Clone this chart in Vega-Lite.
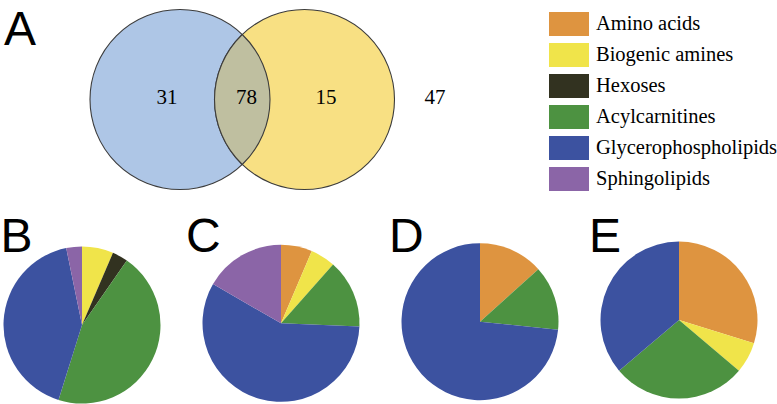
{
  "$schema": "https://vega.github.io/schema/vega-lite/v6.json",
  "width": 777,
  "height": 404,
  "autosize": {"type": "none"},
  "padding": 0,
  "background": "white",
  "config": {"view": {"stroke": null}},
  "datasets": {
    "sets": [{"set": "Set 1"}, {"set": "Set 2"}],
    "regions": [
      {"region": "Set 1 only", "count": 31},
      {"region": "Both", "count": 78},
      {"region": "Set 2 only", "count": 15},
      {"region": "Neither", "count": 47}
    ],
    "panels": [{"panel": "A"}, {"panel": "B"}, {"panel": "C"}, {"panel": "D"}, {"panel": "E"}],
    "pies": [
      {"panel": "B", "category": "Biogenic amines", "count": 2},
      {"panel": "B", "category": "Hexoses", "count": 1},
      {"panel": "B", "category": "Acylcarnitines", "count": 14},
      {"panel": "B", "category": "Glycerophospholipids", "count": 13},
      {"panel": "B", "category": "Sphingolipids", "count": 1},
      {"panel": "C", "category": "Amino acids", "count": 5},
      {"panel": "C", "category": "Biogenic amines", "count": 4},
      {"panel": "C", "category": "Acylcarnitines", "count": 11},
      {"panel": "C", "category": "Glycerophospholipids", "count": 45},
      {"panel": "C", "category": "Sphingolipids", "count": 13},
      {"panel": "D", "category": "Amino acids", "count": 2},
      {"panel": "D", "category": "Acylcarnitines", "count": 2},
      {"panel": "D", "category": "Glycerophospholipids", "count": 11},
      {"panel": "E", "category": "Amino acids", "count": 14},
      {"panel": "E", "category": "Biogenic amines", "count": 3},
      {"panel": "E", "category": "Acylcarnitines", "count": 13},
      {"panel": "E", "category": "Glycerophospholipids", "count": 17}
    ]
  },
  "resolve": {"scale": {"x": "independent", "y": "independent", "color": "independent", "fill": "independent"}},
  "layer": [
    {
      "data": {"name": "sets"},
      "mark": {"type": "point", "shape": "circle", "filled": true, "size": 32400, "opacity": 1, "stroke": "#3c3c3c", "strokeWidth": 1.1, "strokeOpacity": 1},
      "encoding": {
        "x": {"field": "set", "type": "nominal", "axis": null, "scale": {"type": "point", "domain": ["Set 1", "Set 2"], "range": [180, 304.5], "padding": 0}},
        "y": {"datum": "Venn", "type": "nominal", "axis": null, "scale": {"type": "point", "range": [99.5, 99.5], "padding": 0}},
        "fill": {"field": "set", "type": "nominal", "legend": null, "scale": {"domain": ["Set 1", "Set 2"], "range": ["#AEC6E6", "#F8E083"]}}
      }
    },
    {
      "data": {"name": "regions"},
      "transform": [{"filter": "datum.region == 'Both'"}],
      "mark": {"type": "point", "shape": "M0,-0.7222A1,1 0 0,1 0,0.7222A1,1 0 0,1 0,-0.7222Z", "filled": true, "size": 32400, "opacity": 1, "fill": "#BFBFA0", "stroke": "#3c3c3c", "strokeWidth": 1.1, "strokeOpacity": 1},
      "encoding": {
        "x": {"field": "region", "type": "nominal", "axis": null, "scale": {"type": "point", "range": [242.25, 242.25], "padding": 0}},
        "y": {"datum": "Venn", "type": "nominal", "axis": null, "scale": {"type": "point", "range": [99.5, 99.5], "padding": 0}}
      }
    },
    {
      "data": {"name": "regions"},
      "transform": [{"filter": "datum.region != 'Neither'"}],
      "mark": {"type": "text", "font": "Liberation Serif", "fontSize": 21, "color": "black", "align": "center", "baseline": "alphabetic"},
      "encoding": {
        "x": {"field": "region", "type": "nominal", "axis": null, "scale": {"type": "point", "domain": ["Set 1 only", "Both", "Set 2 only"], "range": [167, 326], "padding": 0}},
        "y": {"datum": "Venn", "type": "nominal", "axis": null, "scale": {"type": "point", "range": [104, 104], "padding": 0}},
        "text": {"field": "count", "type": "quantitative"}
      }
    },
    {
      "data": {"name": "regions"},
      "transform": [{"filter": "datum.region == 'Neither'"}],
      "mark": {"type": "text", "font": "Liberation Serif", "fontSize": 21, "color": "black", "align": "center", "baseline": "alphabetic"},
      "encoding": {
        "x": {"field": "region", "type": "nominal", "axis": null, "scale": {"type": "point", "range": [435, 435], "padding": 0}},
        "y": {"datum": "Venn", "type": "nominal", "axis": null, "scale": {"type": "point", "range": [104, 104], "padding": 0}},
        "text": {"field": "count", "type": "quantitative"}
      }
    },
    {
      "data": {"name": "pies"},
      "transform": [{"stack": "count", "groupby": ["panel"], "as": ["t0", "t1"], "offset": "normalize"}],
      "mark": {"type": "arc", "outerRadius": 78.5},
      "encoding": {
        "x": {"field": "panel", "type": "nominal", "axis": null, "scale": {"type": "point", "domain": ["B", "C", "D", "E"], "range": [82, 679], "padding": 0}},
        "y": {"field": "panel", "type": "nominal", "axis": null, "scale": {"type": "point", "domain": ["B", "C", "D", "E"], "range": [325, 320], "padding": 0}},
        "theta": {"field": "t0", "type": "quantitative", "scale": {"domain": [0, 1]}},
        "theta2": {"field": "t1"},
        "color": {
          "field": "category", "type": "nominal",
          "scale": {
            "domain": ["Amino acids", "Biogenic amines", "Hexoses", "Acylcarnitines", "Glycerophospholipids", "Sphingolipids"],
            "range": ["#DE9440", "#F0E44A", "#323220", "#4D9241", "#3C52A0", "#8B65A7"]
          },
          "legend": {
            "title": null,
            "orient": "none",
            "legendX": 549,
            "legendY": 8.6,
            "padding": 0,
            "symbolType": "M-1,-0.6H1V0.6H-1Z",
            "symbolSize": 1600,
            "symbolStrokeWidth": 0,
            "symbolOpacity": 1,
            "labelFont": "Liberation Serif",
            "labelFontSize": 20.5,
            "labelColor": "black",
            "labelLimit": 400,
            "labelOffset": 7,
            "clipHeight": 30.7,
            "rowPadding": 0
          }
        }
      }
    },
    {
      "data": {"name": "panels"},
      "transform": [{"filter": "datum.panel == 'A'"}],
      "mark": {"type": "text", "font": "Liberation Sans", "fontSize": 48, "color": "black", "align": "left", "baseline": "alphabetic"},
      "encoding": {
        "x": {"field": "panel", "type": "nominal", "axis": null, "scale": {"type": "point", "range": [4, 4], "padding": 0}},
        "y": {"field": "panel", "type": "nominal", "axis": null, "scale": {"type": "point", "range": [45, 45], "padding": 0}},
        "text": {"field": "panel"}
      }
    },
    {
      "data": {"name": "panels"},
      "transform": [{"filter": "datum.panel == 'B' || datum.panel == 'C'"}],
      "mark": {"type": "text", "font": "Liberation Sans", "fontSize": 48, "color": "black", "align": "left", "baseline": "alphabetic"},
      "encoding": {
        "x": {"field": "panel", "type": "nominal", "axis": null, "scale": {"type": "point", "domain": ["B", "C"], "range": [0.5, 186], "padding": 0}},
        "y": {"datum": "letters", "type": "nominal", "axis": null, "scale": {"type": "point", "range": [252, 252], "padding": 0}},
        "text": {"field": "panel"}
      }
    },
    {
      "data": {"name": "panels"},
      "transform": [{"filter": "datum.panel == 'D' || datum.panel == 'E'"}],
      "mark": {"type": "text", "font": "Liberation Sans", "fontSize": 48, "color": "black", "align": "left", "baseline": "alphabetic"},
      "encoding": {
        "x": {"field": "panel", "type": "nominal", "axis": null, "scale": {"type": "point", "domain": ["D", "E"], "range": [389, 589], "padding": 0}},
        "y": {"datum": "letters", "type": "nominal", "axis": null, "scale": {"type": "point", "range": [252, 252], "padding": 0}},
        "text": {"field": "panel"}
      }
    }
  ]
}
